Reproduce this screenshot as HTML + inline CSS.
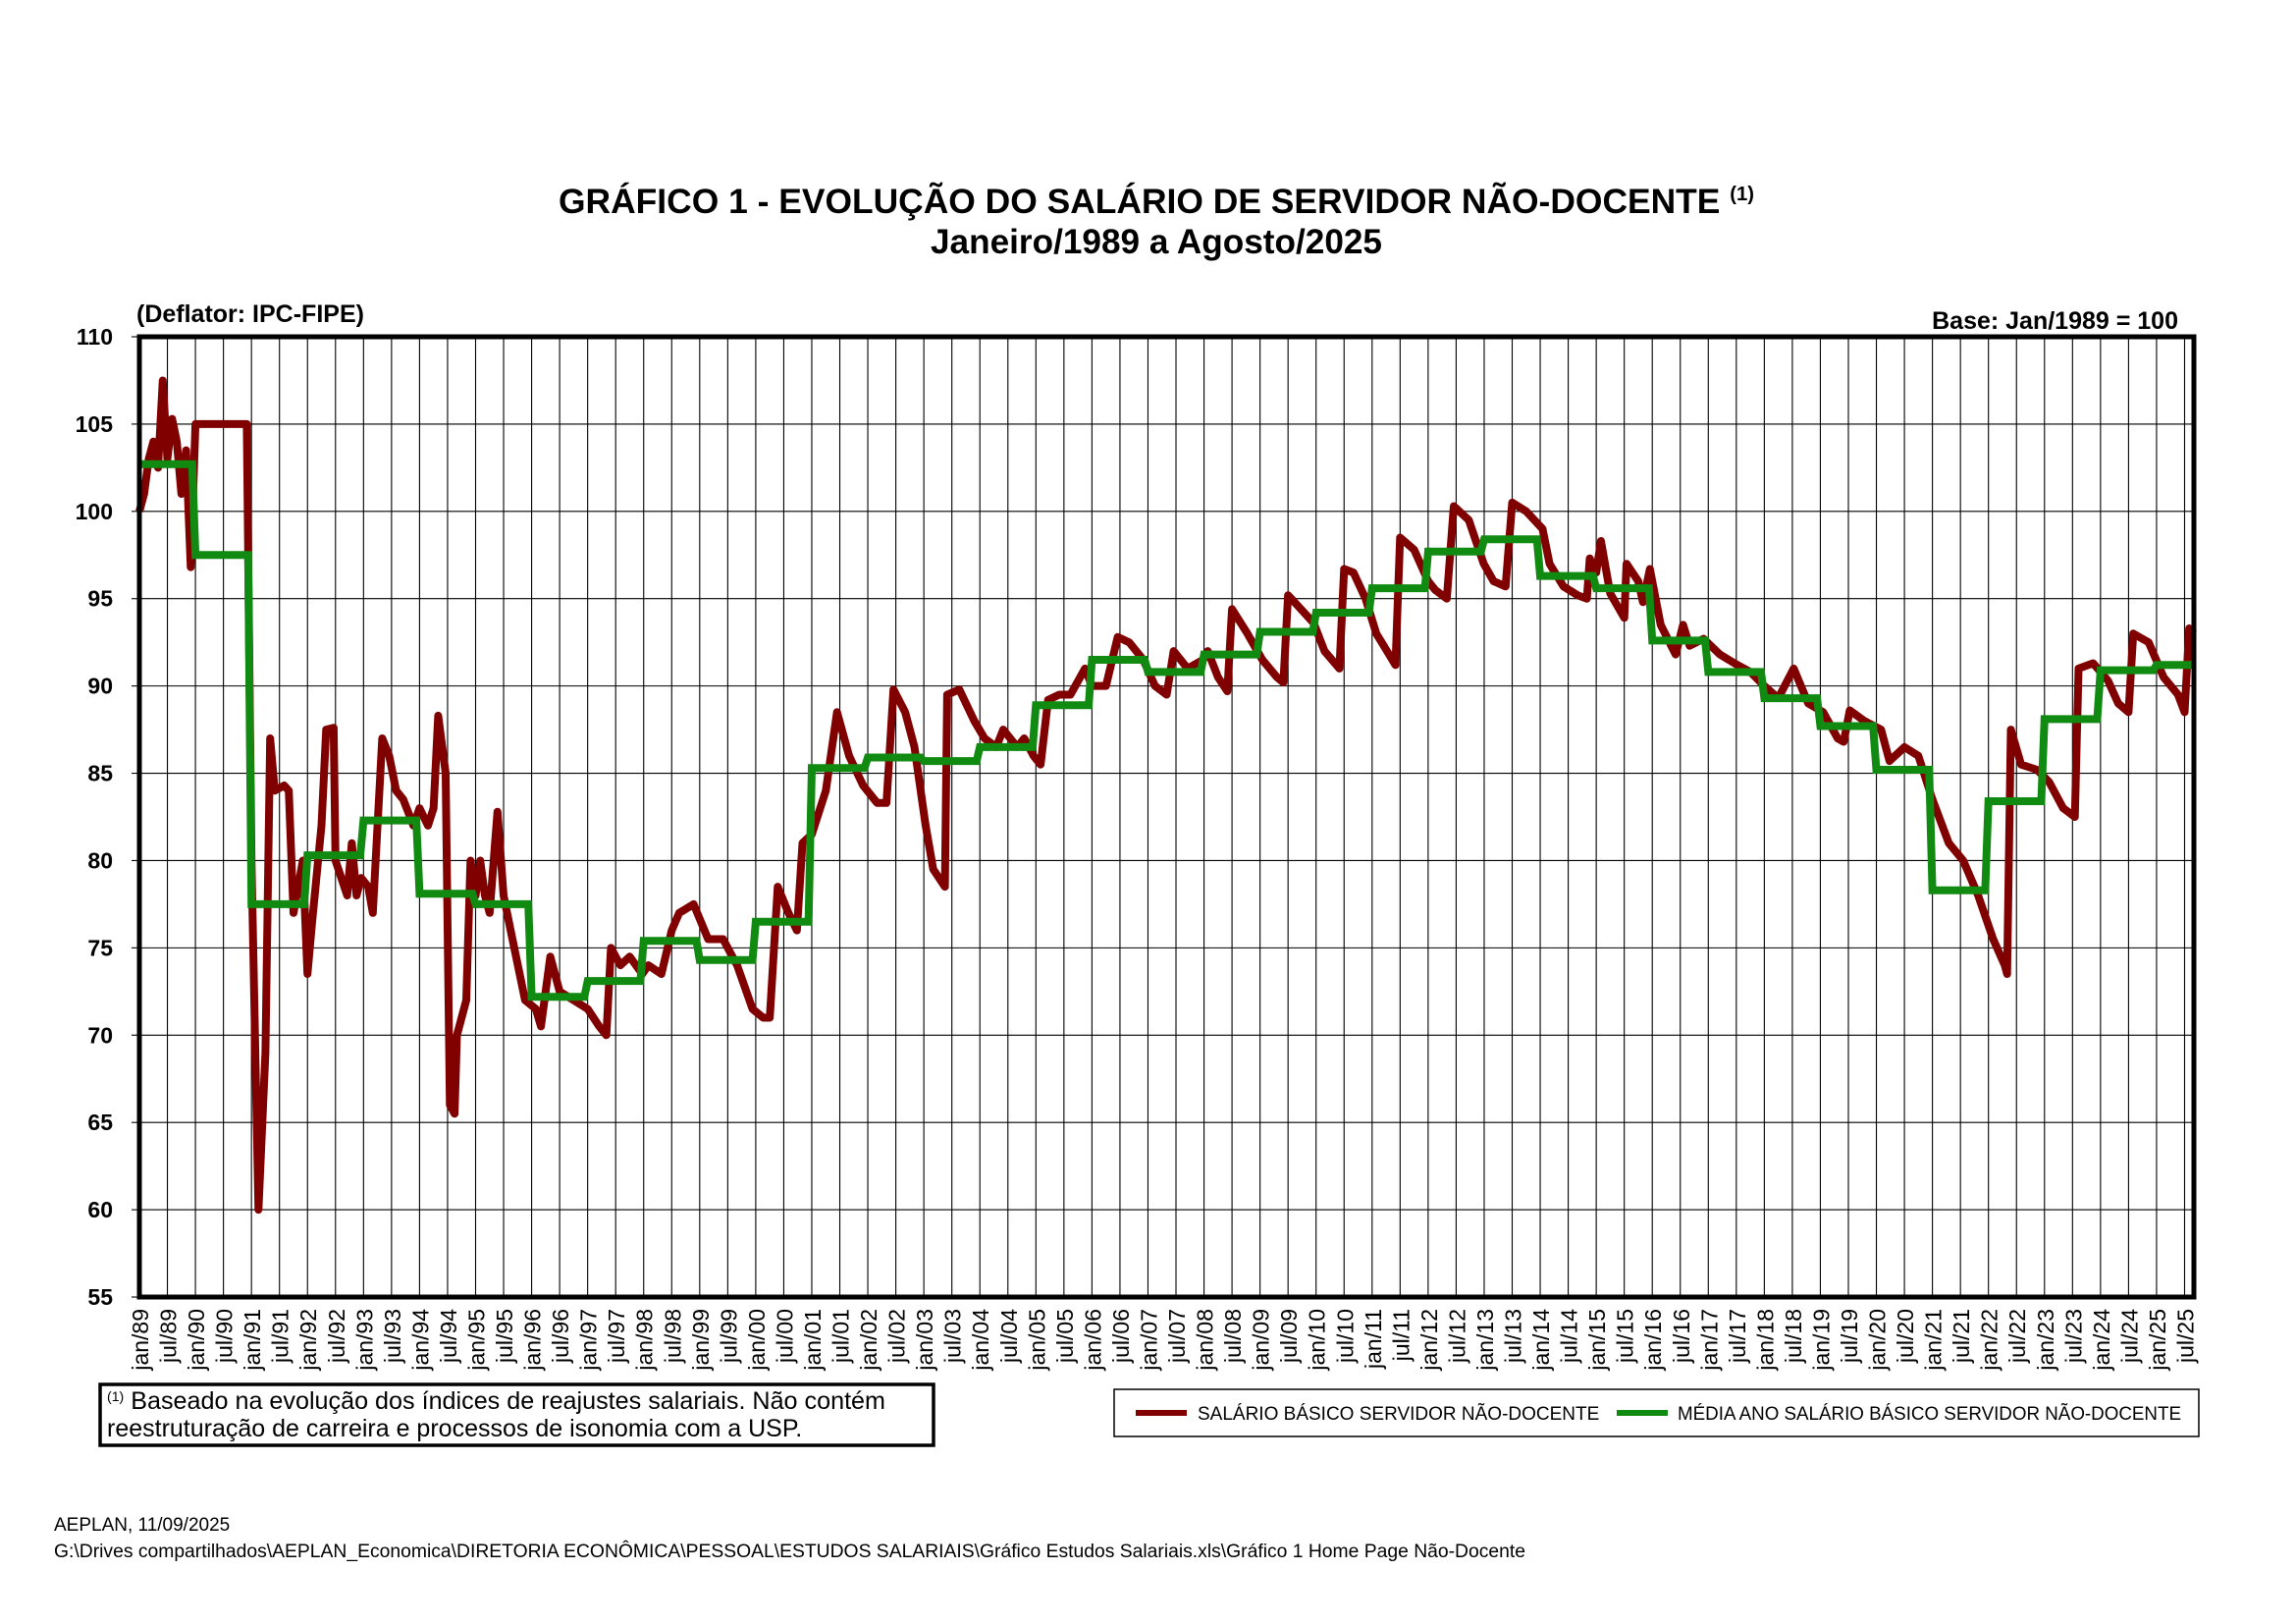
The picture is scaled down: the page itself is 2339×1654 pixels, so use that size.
<!DOCTYPE html>
<html><head><meta charset="utf-8"><style>
html,body{margin:0;padding:0;background:#fff;}
svg{display:block;font-family:"Liberation Sans",Arial,sans-serif;}
</style></head><body>
<svg id="s" width="2339" height="1654" viewBox="0 0 2339 1654" xmlns="http://www.w3.org/2000/svg">
<rect width="2339" height="1654" fill="#fff"/>
<text x="1178" y="217" text-anchor="middle" font-size="35" font-weight="bold" textLength="1218" lengthAdjust="spacingAndGlyphs">GRÁFICO 1 - EVOLUÇÃO DO SALÁRIO DE SERVIDOR NÃO-DOCENTE <tspan font-size="20" dy="-13">(1)</tspan></text>
<text x="1178" y="258" text-anchor="middle" font-size="35" font-weight="bold" textLength="460" lengthAdjust="spacingAndGlyphs">Janeiro/1989 a Agosto/2025</text>
<text x="139" y="328" font-size="25" font-weight="bold">(Deflator: IPC-FIPE)</text>
<text x="2219" y="335" text-anchor="end" font-size="25" font-weight="bold">Base: Jan/1989 = 100</text>
<g id="grid"></g>
<g id="series"></g>
<rect x="142" y="343" width="2093" height="978" fill="none" stroke="#000" stroke-width="5"/>
<g id="lab"></g>
<rect x="102" y="1410" width="849" height="62" fill="#fff" stroke="#000" stroke-width="3.5"/>
<text x="109" y="1435" font-size="25" textLength="793" lengthAdjust="spacingAndGlyphs"><tspan font-size="14" dy="-8">(1)</tspan><tspan dy="8"> Baseado na evolução dos índices de reajustes salariais. Não contém</tspan></text>
<text x="109" y="1463" font-size="25">reestruturação de carreira e processos de isonomia com a USP.</text>
<rect x="1135" y="1415" width="1105" height="48" fill="#fff" stroke="#000" stroke-width="1.5"/>
<line x1="1157" y1="1439" x2="1209" y2="1439" stroke="#800000" stroke-width="6"/>
<text x="1220" y="1446" font-size="19">SALÁRIO BÁSICO SERVIDOR NÃO-DOCENTE</text>
<line x1="1647" y1="1439" x2="1699" y2="1439" stroke="#118a11" stroke-width="6"/>
<text x="1709" y="1446" font-size="19" textLength="513" lengthAdjust="spacingAndGlyphs">MÉDIA ANO SALÁRIO BÁSICO SERVIDOR NÃO-DOCENTE</text>
<text x="55" y="1559" font-size="19">AEPLAN, 11/09/2025</text>
<text x="55" y="1586" font-size="19" textLength="1499" lengthAdjust="spacingAndGlyphs">G:\Drives compartilhados\AEPLAN_Economica\DIRETORIA ECONÔMICA\PESSOAL\ESTUDOS SALARIAIS\Gráfico Estudos Salariais.xls\Gráfico 1 Home Page Não-Docente</text>
</svg>
<script>
var NS="http://www.w3.org/2000/svg";
function el(p,t,a,txt){var e=document.createElementNS(NS,t);for(var k in a)e.setAttribute(k,a[k]);if(txt!=null)e.textContent=txt;p.appendChild(e);return e;}
var L=142,T=343,B=1321,MW=2093/440;
function X(m){return L+m*MW;}function Y(v){return T+(110-v)*978/55;}
var g=document.getElementById('grid'),lab=document.getElementById('lab'),s=document.getElementById('series');
for(var v=55;v<=110;v+=5){var y=Y(v);el(g,'line',{x1:L,x2:2235,y1:y,y2:y,stroke:'#000','stroke-width':1.1});
el(g,'line',{x1:134,x2:L,y1:y,y2:y,stroke:'#000','stroke-width':1.1});
el(lab,'text',{x:115,y:y+8,'text-anchor':'end','font-size':23,'font-weight':'bold'},String(v));}
for(var k=0;k<=73;k++){var x=X(6*k);if(k>0)el(g,'line',{x1:x,x2:x,y1:T,y2:B,stroke:'#000','stroke-width':1.1});
var yr=(89+Math.floor(k/2))%100;var t=(k%2?'jul/':'jan/')+(yr<10?'0':'')+yr;
el(lab,'text',{x:0,y:0,transform:'translate('+(x+9)+',1333) rotate(-90)','text-anchor':'end','font-size':23},t);}
var r=[[0,100],[1,101],[2,103],[3,104],[4,102.5],[5,107.5],[6,103],[7,105.3],[8,104],[9,101],[10,103.5],[11,96.8],[12,105],[23,105],[24,80],[25.5,60],[27,69],[28,87],[29,84],[31,84.3],[32,84],[33,77],[35,80],[36,73.5],[37,76.5],[39,82],[40,87.5],[41.6,87.6],[42,80],[44.5,78],[45.5,81],[46.5,78],[47.5,79],[49,78.5],[50,77],[52,87],[53.5,86],[55,84],[56.5,83.5],[58.7,82],[60,83],[61.8,82],[63,83],[64,88.3],[65.6,85],[66.5,66],[67.5,65.5],[68,70],[70,72],[70.9,80],[72,78],[73,80],[74,78],[75,77],[76.7,82.8],[78,78],[79.5,76],[82.6,72],[84.9,71.5],[86,70.5],[88,74.5],[90,72.5],[93,72],[96,71.5],[98.5,70.5],[100,70],[101,75],[103,74],[105,74.5],[107.7,73.5],[109,74],[111.8,73.5],[114,76],[115.6,77],[118.7,77.5],[121.8,75.5],[125,75.5],[128,74],[131.3,71.5],[133.6,71],[135,71],[136.7,78.5],[139,77],[140.8,76],[142,81],[144,81.5],[147,84],[149.4,88.5],[152,86],[155,84.3],[158,83.3],[160,83.3],[161.5,89.8],[164,88.5],[166,86.5],[168.4,82],[170,79.5],[172.5,78.5],[173,89.5],[175.6,89.8],[178.8,88],[181,87],[183.5,86.5],[185,87.5],[188,86.5],[189.5,87],[191.5,86],[193,85.5],[194.6,89.2],[197,89.5],[199.4,89.5],[202.5,91],[204,90],[207,90],[209.5,92.8],[212,92.5],[215,91.5],[217.5,90],[220,89.5],[221.5,92],[224.5,91],[227.8,91.5],[228.8,92],[231,90.5],[233,89.7],[234,94.4],[237.3,93],[240.5,91.5],[243.6,90.5],[245,90.2],[246,95.2],[248.4,94.5],[251.5,93.6],[253.8,92],[257,91],[258,96.7],[260,96.5],[262.6,95],[264.9,93],[269,91.2],[270,98.5],[273,97.8],[276,96],[277.5,95.5],[280,95],[281.5,100.3],[284.7,99.5],[287.9,97],[290,96],[292.6,95.7],[294,100.5],[297,100],[300.5,99],[302,97],[305,95.7],[308,95.2],[310,95],[310.6,97.3],[312,96.5],[313,98.3],[315,95.3],[318,93.9],[318.5,97],[321,96],[322,94.8],[323.5,96.7],[325.8,93.5],[329,91.8],[330.6,93.5],[332,92.3],[335,92.7],[338.5,91.8],[341.6,91.3],[345,90.8],[348,90],[351,89.3],[354.3,91],[357.4,89],[360.6,88.5],[363.7,87],[365,86.8],[366.3,88.6],[369.4,88],[373,87.5],[374.8,85.7],[378,86.5],[381,86],[384,83.5],[387.5,81],[390.6,80],[393.8,78],[397,75.5],[399.5,74],[400,73.5],[400.8,87.5],[403,85.5],[406.4,85.2],[409,84.5],[412,83],[414.5,82.5],[415.3,91],[418.4,91.3],[421.6,90.3],[423.8,89],[426,88.5],[427,93],[430.3,92.5],[433.5,90.5],[436.6,89.5],[438,88.5],[439,93.3],[440,93]];
var gv=[102.7,97.5,77.5,80.3,82.3,78.1,77.5,72.2,73.1,75.4,74.3,76.5,85.3,85.9,85.7,86.5,88.9,91.5,90.8,91.8,93.1,94.2,95.6,97.7,98.4,96.3,95.6,92.6,90.8,89.3,87.7,85.2,78.3,83.4,88.1,90.9,91.2];
var gp=[];for(var i=0;i<gv.length;i++){var e=(i==gv.length-1)?440:12*i+11.3;gp.push(X(12*i).toFixed(1)+','+Y(gv[i]).toFixed(1));gp.push(X(e).toFixed(1)+','+Y(gv[i]).toFixed(1));}
el(s,'polyline',{points:r.map(function(p){return X(p[0]).toFixed(1)+','+Y(p[1]).toFixed(1);}).join(' '),fill:'none',stroke:'#800000','stroke-width':8,'stroke-linejoin':'round'});
el(s,'polyline',{points:gp.join(' '),fill:'none',stroke:'#118a11','stroke-width':8,'stroke-linejoin':'miter'});
</script>
</body></html>
